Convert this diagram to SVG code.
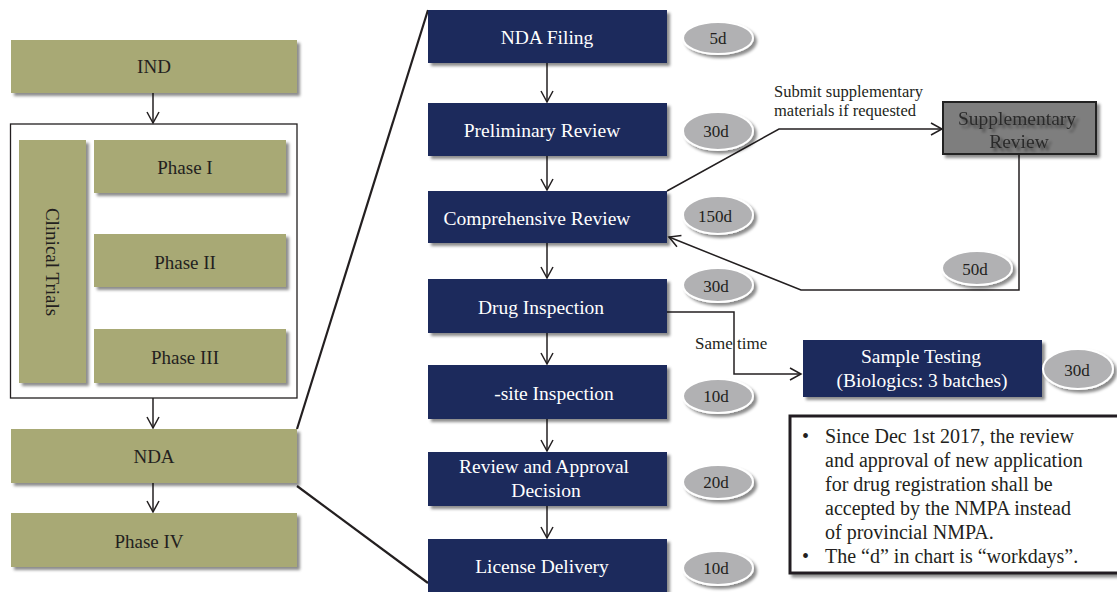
<svg xmlns="http://www.w3.org/2000/svg" width="1117" height="592" viewBox="0 0 1117 592" font-family="'Liberation Serif', 'Times New Roman', serif">
<style>
text{font-family:"Liberation Serif","Times New Roman",serif;}
.olive{fill:#a8a974;filter:url(#sh);}
.navy{fill:#1e295c;filter:url(#sh);}
.ell{fill:#b1b1b3;stroke:#ffffff;stroke-width:2;filter:url(#sh);}
.tl{font-family:"Liberation Serif",serif;font-size:19px;fill:#231f20;text-anchor:middle;}
.tb{font-family:"Liberation Serif",serif;font-size:19.5px;fill:#ffffff;text-anchor:middle;}
.te{font-family:"Liberation Serif",serif;font-size:17px;fill:#231f20;text-anchor:middle;}
.tn{font-family:"Liberation Serif",serif;font-size:20px;fill:#231f20;}
.ts{font-family:"Liberation Serif",serif;font-size:19.5px;fill:#2a2a2a;text-anchor:middle;filter:url(#tsh);}
.ln{fill:none;stroke:#231f20;stroke-width:1.5;}
.lnk{fill:none;stroke:#231f20;stroke-width:2.2;}
</style>
<defs>
<filter id="sh" x="-20%" y="-20%" width="140%" height="150%">
<feDropShadow dx="3" dy="3" stdDeviation="1.8" flood-color="#000" flood-opacity="0.45"/>
</filter>
<filter id="tsh" x="-10%" y="-40%" width="125%" height="190%">
<feDropShadow dx="3" dy="3" stdDeviation="1.5" flood-color="#000" flood-opacity="0.5"/>
</filter>
<marker id="ar" markerWidth="14" markerHeight="14" refX="12" refY="7" orient="auto" markerUnits="userSpaceOnUse">
<path d="M1,1 L12,7 L1,13" fill="none" stroke="#231f20" stroke-width="1.5"/>
</marker>
</defs>
<rect width="1117" height="592" fill="#ffffff"/>

<g id="connectors">
<line class="ln" x1="153" y1="93" x2="153" y2="123" marker-end="url(#ar)"/>
<line class="ln" x1="153" y1="398" x2="153" y2="428" marker-end="url(#ar)"/>
<line class="ln" x1="153" y1="483" x2="153" y2="512" marker-end="url(#ar)"/>
<line class="lnk" x1="297" y1="429" x2="428" y2="10"/>
<line class="lnk" x1="297" y1="486" x2="428" y2="583"/>
<line class="ln" x1="547" y1="63" x2="547" y2="102" marker-end="url(#ar)"/>
<line class="ln" x1="547" y1="156" x2="547" y2="190" marker-end="url(#ar)"/>
<line class="ln" x1="547" y1="243" x2="547" y2="278" marker-end="url(#ar)"/>
<line class="ln" x1="547" y1="333" x2="547" y2="364" marker-end="url(#ar)"/>
<line class="ln" x1="547" y1="419" x2="547" y2="451" marker-end="url(#ar)"/>
<line class="ln" x1="547" y1="506" x2="547" y2="538" marker-end="url(#ar)"/>
<polyline class="ln" points="667,191 779,129 942,129" marker-end="url(#ar)"/>
<polyline class="ln" points="1019,155 1019,290 801,290 669,237" marker-end="url(#ar)"/>
<polyline class="ln" points="667,312 734,312 734,374 801,374" marker-end="url(#ar)"/>
<text x="774" y="97" font-size="16.5" fill="#231f20">Submit supplementary</text>
<text x="774" y="116" font-size="16.5" fill="#231f20">materials if requested</text>
<text x="695" y="349" font-size="17" fill="#231f20">Same time</text>
</g>

<g id="clinical-box"><rect x="10.5" y="124" width="286.5" height="274" fill="none" stroke="#231f20" stroke-width="1.3"/></g>

<g id="ind"><rect class="olive" x="11" y="40" width="286" height="53"/><text class="tl" x="154" y="73">IND</text></g>
<g id="clinical-trials"><rect class="olive" x="19" y="140" width="67" height="243"/><text class="tl" transform="translate(46,262) rotate(90)" font-size="20">Clinical Trials</text></g>
<g id="phase1"><rect class="olive" x="94" y="140" width="192" height="53"/><text class="tl" x="185" y="174">Phase I</text></g>
<g id="phase2"><rect class="olive" x="94" y="234" width="192" height="53"/><text class="tl" x="185" y="269">Phase II</text></g>
<g id="phase3"><rect class="olive" x="94" y="329" width="192" height="54"/><text class="tl" x="185" y="364">Phase III</text></g>
<g id="nda"><rect class="olive" x="11" y="429" width="286" height="54"/><text class="tl" x="154" y="463">NDA</text></g>
<g id="phase4"><rect class="olive" x="11" y="513" width="286" height="54"/><text class="tl" x="149" y="548">Phase IV</text></g>

<g id="nda-filing"><rect class="navy" x="428" y="10" width="239" height="53"/><text class="tb" x="547" y="44">NDA Filing</text></g>
<g id="preliminary-review"><rect class="navy" x="428" y="103" width="239" height="53"/><text class="tb" x="542" y="137">Preliminary Review</text></g>
<g id="comprehensive-review"><rect class="navy" x="428" y="191" width="239" height="52"/><text class="tb" x="537" y="225">Comprehensive Review</text></g>
<g id="drug-inspection"><rect class="navy" x="428" y="279" width="239" height="54"/><text class="tb" x="541" y="314">Drug Inspection</text></g>
<g id="site-inspection"><rect class="navy" x="428" y="365" width="239" height="54"/><text class="tb" x="554" y="400">-site Inspection</text></g>
<g id="review-approval"><rect class="navy" x="428" y="452" width="239" height="54"/><text class="tb" x="544" y="473">Review and Approval</text><text class="tb" x="546" y="497">Decision</text></g>
<g id="license-delivery"><rect class="navy" x="428" y="539" width="239" height="56"/><text class="tb" x="542" y="573">License Delivery</text></g>

<g id="supplementary-review"><rect x="943" y="102" width="153" height="52" fill="#7e7e7e" stroke="#222" stroke-width="2" filter="url(#sh)"/>
<text class="ts" x="1017" y="125">Supplementary</text>
<text class="ts" x="1019" y="148">Review</text></g>

<g id="sample-testing"><rect class="navy" x="803" y="340" width="239" height="57"/><text class="tb" x="921" y="363">Sample Testing</text><text class="tb" x="922" y="387" font-size="20">(Biologics: 3 batches)</text></g>

<g id="d5"><ellipse class="ell" cx="718" cy="38" rx="35" ry="16"/><text class="te" x="718" y="44">5d</text></g>
<g id="d30a"><ellipse class="ell" cx="718" cy="131" rx="35" ry="19"/><text class="te" x="716" y="137">30d</text></g>
<g id="d150"><ellipse class="ell" cx="718" cy="215" rx="35" ry="19"/><text class="te" x="715" y="222">150d</text></g>
<g id="d30b"><ellipse class="ell" cx="718" cy="285" rx="35" ry="17"/><text class="te" x="716" y="292">30d</text></g>
<g id="d10a"><ellipse class="ell" cx="718" cy="396" rx="35" ry="17"/><text class="te" x="716" y="402">10d</text></g>
<g id="d20"><ellipse class="ell" cx="718" cy="482" rx="35" ry="17"/><text class="te" x="716" y="488">20d</text></g>
<g id="d10b"><ellipse class="ell" cx="718" cy="568" rx="35" ry="17"/><text class="te" x="716" y="574">10d</text></g>
<g id="d50"><ellipse class="ell" cx="977" cy="268" rx="35" ry="17"/><text class="te" x="975" y="275">50d</text></g>
<g id="d30c"><ellipse class="ell" cx="1078" cy="369" rx="35" ry="20"/><text class="te" x="1077" y="376">30d</text></g>

<g id="note"><rect x="790" y="416" width="330" height="157" fill="#fff" stroke="#231f20" stroke-width="3" filter="url(#sh)"/>
<text class="tn" x="802" y="443">•</text>
<text class="tn" x="825" y="443">Since Dec 1st 2017, the review</text>
<text class="tn" x="825" y="467">and approval of new application</text>
<text class="tn" x="825" y="491">for drug registration shall be</text>
<text class="tn" x="825" y="515">accepted by the NMPA instead</text>
<text class="tn" x="825" y="539">of provincial NMPA.</text>
<text class="tn" x="802" y="563">•</text>
<text class="tn" x="825" y="563">The “d” in chart is “workdays”.</text>
</g>
</svg>
